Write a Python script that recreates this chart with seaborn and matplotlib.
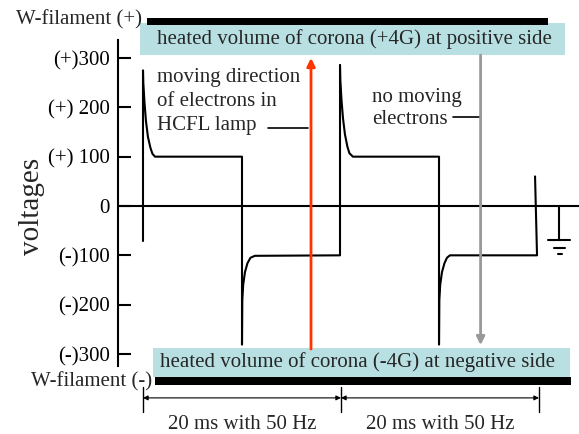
"""HCFL lamp voltage waveform with corona regions."""
import matplotlib.pyplot as plt
import pandas as pd
import seaborn as sns
from matplotlib.patches import Rectangle

# waveform vertices (time in ms, volts)
t_ms = [0.0, 0.0, 0.03, 0.15, 0.3, 0.5, 0.75, 0.95, 1.21, 10.0, 10.0, 10.03, 10.12,
        10.3, 10.55, 10.85, 11.3,
        19.9, 19.9, 19.93, 20.05, 20.2, 20.4, 20.65, 20.85, 21.2, 29.9, 29.9, 29.93,
        30.02, 30.2, 30.45, 30.7, 31.0,
        39.8, 39.6]
volts = [-71, 275, 249, 210, 172, 140, 118, 106, 100, 100, -281, -190, -160,
         -134, -116, -105, -101,
         -100, 286, 255, 215, 178, 145, 120, 107, 100, 100, -281, -190,
         -160, -134, -116, -105, -100,
         -100, 60]

ytick_vals = [300, 200, 100, 0, -100, -200, -300]
ytick_labels = ["(+)300", "(+) 200", "(+) 100", "0", "(-)100", "(-)200", "(-)300"]

period_edges = [0, 20, 40]
period_label = "20 ms with 50 Hz"

LIGHT_BLUE = "#b8e0e2"

sns.set_theme(style="white")
plt.rcParams["font.family"] = ["Liberation Serif", "DejaVu Serif"]

fig = plt.figure(figsize=(5.79, 4.34), dpi=100)
ax = fig.add_axes([118 / 579, 0, 461 / 579, 1])

df = pd.DataFrame({"t": t_ms, "v": volts})
sns.lineplot(data=df, x="t", y="v", sort=False, estimator=None, color="black",
             lw=1.5, ax=ax)
ax.axhline(0, color="black", lw=1.5)

ax.set_xlim(-2.525, 44.04)
ax.set_ylim(-462.2, 417.6)
for side in ["top", "right", "bottom"]:
    ax.spines[side].set_visible(False)
ax.spines["left"].set_bounds(-324, 336)
ax.spines["left"].set_linewidth(1.5)
ax.spines["left"].set_color("black")
ax.set_xticks([])
ax.set_yticks(ytick_vals, ytick_labels)
ax.tick_params(axis="y", direction="in", length=9.5, width=1.5, labelsize=15,
               pad=6, left=True, colors="black")
ax.set_xlabel("")
ax.set_ylabel("voltages", fontsize=21)
ax.yaxis.set_label_coords(-0.158, 0.525)

# corona regions and filaments
ax.add_patch(Rectangle((-0.3, 306), 42.9, 65, color=LIGHT_BLUE, lw=0, clip_on=False))
ax.add_patch(Rectangle((0.4, 367), 40.5, 14, color="black", lw=0, clip_on=False))
ax.add_patch(Rectangle((1.0, -347), 42.1, 59, color=LIGHT_BLUE, lw=0, clip_on=False))
ax.add_patch(Rectangle((1.2, -363), 42.0, 16, color="black", lw=0, clip_on=False))

ax.text(1.41, 338, "heated volume of corona (+4G) at positive side", fontsize=15,
        va="center", ha="left")
ax.text(1.72, -317, "heated volume of corona (-4G) at negative side", fontsize=15,
        va="center", ha="left")
ax.text(-0.1, 377, "W-filament (+)", fontsize=15, va="center", ha="right", clip_on=False)
ax.text(0.9, -357, "W-filament (-)", fontsize=15, va="center", ha="right", clip_on=False)

# electron direction arrows
ax.annotate("", xy=(16.97, 300), xytext=(16.97, -290),
            arrowprops=dict(arrowstyle="-|>", color="#ff3300", lw=2, mutation_scale=12,
                            shrinkA=0, shrinkB=0))
ax.annotate("", xy=(34.1, -282), xytext=(34.1, 306),
            arrowprops=dict(arrowstyle="-|>", color="#999999", lw=2, mutation_scale=12,
                            shrinkA=0, shrinkB=0))

ax.text(1.41, 280, "moving direction\nof electrons in\nHCFL lamp", fontsize=15,
        va="top", ha="left", linespacing=1.36)
ax.plot([12.6, 16.7], [158, 158], color="black", lw=1.2)
ax.text(23.1, 240, "no moving\nelectrons", fontsize=15, va="top", ha="left",
        linespacing=1.22)
ax.plot([31.3, 34.1], [180, 180], color="black", lw=1.2)

# ground symbol
ax.plot([42.0, 42.0], [0, -69], color="black", lw=1.5)
ax.plot([40.9, 43.1], [-69, -69], color="black", lw=1.5)
ax.plot([41.5, 42.6], [-85, -85], color="black", lw=1.5)
ax.plot([41.9, 42.3], [-97, -97], color="black", lw=1.5)

# period dimension lines
for x in period_edges:
    ax.plot([x, x], [-367, -418], color="black", lw=1, clip_on=False)
for a, b in zip(period_edges[:-1], period_edges[1:]):
    ax.annotate("", xy=(a, -389), xytext=(b, -389),
                arrowprops=dict(arrowstyle="<|-|>", color="black", lw=0.8,
                                mutation_scale=7, shrinkA=0, shrinkB=0))
    ax.text((a + b) / 2, -442, period_label, fontsize=15, ha="center", va="center")

fig.savefig("out.png", dpi=100)
